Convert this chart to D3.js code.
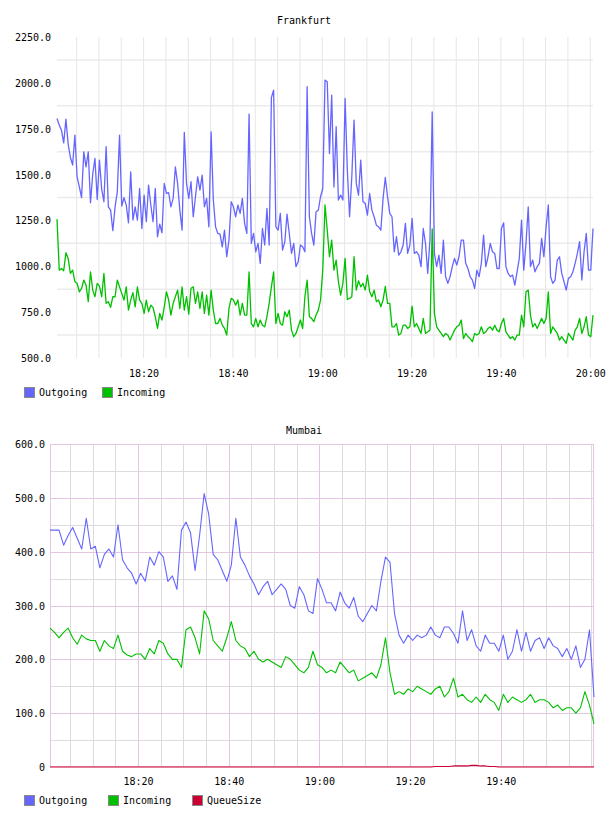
<!DOCTYPE html>
<html><head><meta charset="utf-8">
<script src="https://cdn.jsdelivr.net/npm/d3@7"></script>
<style>
body{margin:0;background:#fff;}
text{font-family:"DejaVu Sans Mono",monospace;font-size:10px;fill:#000;}
</style>
</head><body>
<svg id="c" width="608" height="816"></svg>
<script>
// ---------- DATA ----------
const fraTimeTicks = ["18:20","18:40","19:00","19:20","19:40","20:00"];
const mumTimeTicks = ["18:20","18:40","19:00","19:20","19:40"];

// Frankfurt: samples every 30 s starting 18:00:37
const fraStart = "18:00:37";
const fraStepSec = 30;
const fraYTicks = [500,750,1000,1250,1500,1750,2000,2250];
const fraOutgoing = [
1806,1770,1742,1673,1802,1666,1593,1552,1715,1488,
1433,1375,1624,1542,1624,1346,1503,1588,1364,1579,
1421,1352,1652,1324,1306,1194,1324,1406,1715,1328,
1374,1334,1237,1515,1252,1324,1252,1424,1206,1388,
1243,1443,1334,1243,1424,1161,1230,1183,1452,1397,
1401,1324,1370,1542,1452,1306,1197,1730,1452,1370,
1461,1270,1379,1488,1415,1497,1324,1370,1215,1733,
1361,1215,1179,1175,1106,1197,1052,1143,1352,1324,
1270,1334,1288,1370,1234,1179,1830,1125,1179,1079,
1125,1016,1206,1116,1315,1116,1920,1960,1215,1197,
1288,1088,1134,1284,1179,1070,1125,998,1025,1116,
1106,1079,1979,1270,1179,1116,1297,1306,1379,1424,
2015,2006,1615,1933,1433,1761,1361,1388,1361,1915,
1524,1270,1488,1797,1452,1388,1579,1352,1343,1279,
1397,1306,1270,1224,1215,1197,1370,1484,1379,1288,
1270,1079,1161,1061,1079,1116,1234,1070,1116,1261,
1070,1079,1061,998,1206,1125,961,1143,1842,1070,
998,1061,961,1143,943,907,943,998,1043,1007,
1052,1143,1143,1016,988,943,925,879,979,943,
1016,1170,998,1052,1125,1079,1070,988,988,1206,
1237,998,961,943,952,897,970,1043,1252,979,
1125,1324,998,1034,970,998,1016,1152,1052,1215,
1334,943,907,925,1034,1052,961,916,870,934,
943,970,1016,1070,1134,925,1079,1179,979,979,1206];
const fraIncoming = [
1257,979,988,976,1074,1043,961,979,916,907,
861,879,925,897,807,970,870,834,907,892,
834,961,798,807,776,834,834,925,888,852,
816,888,761,816,856,779,888,816,798,743,
816,752,788,776,725,661,743,707,776,861,
816,734,798,834,870,770,888,761,834,739,
880,888,798,861,770,861,743,843,734,870,
761,688,688,716,679,661,625,770,825,816,
788,816,734,798,734,734,970,688,670,716,
670,707,679,670,725,798,888,970,688,743,
688,679,752,725,761,652,616,634,670,707,
661,834,925,725,716,698,734,761,816,979,
1334,1197,1052,1143,979,1034,916,843,907,1043,
819,825,834,1052,870,921,888,907,870,952,
861,834,870,807,816,779,816,890,798,798,
670,670,688,625,634,679,679,661,670,783,
670,688,661,634,716,634,643,652,1204,743,
670,652,634,616,634,625,598,625,652,670,
679,707,606,634,616,606,589,634,625,634,
670,634,643,661,670,652,679,652,643,688,
716,643,625,606,616,598,625,625,734,670,
861,870,734,670,688,661,688,716,688,716,
861,634,670,652,634,598,616,598,580,634,
616,598,652,670,716,634,670,725,625,616,734];

// Mumbai: samples every 60 s starting 18:00:35
const mumStart = "18:00:35";
const mumStepSec = 60;
const mumYTicks = [0,100,200,300,400,500,600];
const mumOutgoing = [
440,440,440,412,430,445,425,405,462,405,
410,370,395,405,390,450,385,370,360,340,
360,345,390,375,400,390,345,355,330,440,
455,435,365,430,508,470,395,385,365,345,
375,462,390,375,355,340,320,335,345,320,
330,340,330,300,295,335,320,290,285,350,
330,305,305,290,325,305,295,315,280,270,
285,300,290,345,390,380,285,245,230,245,
235,245,240,245,260,245,240,260,260,248,
230,290,235,255,225,215,245,230,230,215,
245,200,215,255,215,250,215,235,240,220,
240,225,220,205,220,200,225,185,200,255,130];
const mumIncoming = [
258,250,240,250,258,240,228,245,238,235,
235,215,235,225,220,245,215,208,205,210,
210,200,220,210,235,230,210,200,200,185,
255,260,240,210,290,275,235,225,215,240,
270,235,225,220,205,215,200,195,200,195,
190,185,205,200,190,180,175,185,215,190,
185,175,180,175,195,185,175,180,160,165,
170,175,165,190,240,175,135,140,135,145,
140,150,145,140,135,145,150,130,140,165,
130,135,125,120,130,120,135,125,120,105,
135,120,130,125,120,125,135,120,125,125,
120,110,115,105,110,110,100,110,140,115,80];
const mumQueue = [
0,0,0,0,0,0,0,0,0,0, 0,0,0,0,0,0,0,0,0,0,
0,0,0,0,0,0,0,0,0,0, 0,0,0,0,0,0,0,0,0,0,
0,0,0,0,0,0,0,0,0,0, 0,0,0,0,0,0,0,0,0,0,
0,0,0,0,0,0,0,0,0,0, 0,0,0,0,0,0,0,0,0,0,
0,0,0,0,0,1,1,1,1,2, 2,2,2,3,3,2,2,1,1,0,
0,0,0,0,0,0,0,0,0,0, 0,0,0,0,0,0,0,0,0,0, 0];

const colors = {Outgoing:"#6666ff", Incoming:"#00c000", QueueSize:"#cc0033"};

// ---------- HELPERS ----------
const svg = d3.select("#c");
const parseHMS = d3.timeParse("%Y-%m-%d %H:%M:%S");
const parseHM = d3.timeParse("%Y-%m-%d %H:%M");
const day = "2013-01-01 ";
function series(startStr, stepSec, vals){
  const t0 = parseHMS(day + startStr);
  return vals.map((v,i)=>({t:d3.timeSecond.offset(t0, i*stepSec), v}));
}
const fmt = d3.timeFormat("%H:%M");

function drawChart(o){
  const g = svg.append("g");
  const tickDates = o.timeTicks.map(s=>parseHM(day+s));
  const all = o.series.map(s=>series(o.start, o.step, s.values));
  const tExt = d3.extent(all[0], d=>d.t);
  const x = d3.scaleTime().domain(tExt).range([o.x0, o.x1]);
  const y = d3.scaleLinear().domain([o.yTicks[0], o.yTicks[o.yTicks.length-1]]).range([o.y1, o.y0]);
  const fiveMin = d3.timeMinute.every(5).range(tExt[0], tExt[1]);

  // grid
  const grid = g.append("g");
  if(o.style==="fra"){
    const mids = o.yTicks.slice(0,-1).map((v,i)=>(v+o.yTicks[i+1])/2);
    grid.selectAll("line.h").data(mids).join("line")
      .attr("x1",o.x0).attr("x2",o.x1).attr("y1",d=>y(d)).attr("y2",d=>y(d))
      .attr("stroke","#ebebeb").attr("stroke-width",1.5);
    grid.selectAll("line.v").data(fiveMin).join("line")
      .attr("x1",d=>x(d)).attr("x2",d=>x(d)).attr("y1",o.y0).attr("y2",o.y1)
      .attr("stroke","#e6e6e6").attr("stroke-width",1);
  } else {
    const minorY = o.yTicks.slice(0,-1).map((v,i)=>(v+o.yTicks[i+1])/2);
    grid.selectAll("line.hm").data(minorY).join("line")
      .attr("x1",o.x0).attr("x2",o.x1).attr("y1",d=>Math.round(y(d))+0.5).attr("y2",d=>Math.round(y(d))+0.5)
      .attr("stroke","#dcdcdc");
    const minorX = fiveMin.filter(d=>!tickDates.some(t=>+t===+d));
    grid.selectAll("line.vm").data(minorX).join("line")
      .attr("x1",d=>Math.round(x(d))+0.5).attr("x2",d=>Math.round(x(d))+0.5).attr("y1",o.y0).attr("y2",o.y1)
      .attr("stroke","#dcdcdc");
    grid.selectAll("line.hM").data(o.yTicks.slice(1,-1)).join("line")
      .attr("x1",o.x0).attr("x2",o.x1).attr("y1",d=>Math.round(y(d))+0.5).attr("y2",d=>Math.round(y(d))+0.5)
      .attr("stroke","#e2c6e2");
    grid.selectAll("line.vM").data(tickDates).join("line")
      .attr("x1",d=>Math.round(x(d))+0.5).attr("x2",d=>Math.round(x(d))+0.5).attr("y1",o.y0).attr("y2",o.y1)
      .attr("stroke","#e2c6e2");
    grid.append("rect").attr("x",o.x0+0.5).attr("y",o.y0+0.5)
      .attr("width",o.x1-o.x0-1).attr("height",o.y1-o.y0-1)
      .attr("fill","none").attr("stroke","#e2c6e2");
  }

  // axes
  const ax = g.append("g").attr("transform",`translate(0,${o.xLabelY})`)
    .call(d3.axisBottom(x).tickValues(tickDates).tickFormat(fmt).tickSize(0).tickPadding(0));
  ax.select(".domain").remove();
  ax.selectAll("text").attr("dy","0.35em").attr("fill",null);
  ax.attr("font-size",null).attr("font-family",null);

  const ay = g.append("g").attr("transform",`translate(${o.yLabelX},0)`)
    .call(d3.axisLeft(y).tickValues(o.yTicks).tickFormat(d=>d===0?"0":d.toFixed(1)).tickSize(0).tickPadding(0));
  ay.select(".domain").remove();
  ay.selectAll("text").attr("dy","0.35em").attr("fill",null);
  ay.attr("font-size",null).attr("font-family",null);

  // lines
  const line = d3.line().x(d=>x(d.t)).y(d=>y(d.v));
  o.series.forEach((s,i)=>{
    g.append("path").datum(all[i]).attr("d",line)
      .attr("fill","none").attr("stroke",colors[s.name]).attr("stroke-width",o.lw)
      .attr("stroke-linejoin","round");
  });

  // title
  g.append("text").attr("x",304).attr("y",o.titleY).attr("text-anchor","middle")
    .attr("dy","0.35em").text(o.title);

  // legend
  const lg = g.append("g");
  o.series.forEach((s,i)=>{
    const lx = o.legendX[i];
    lg.append("rect").attr("x",lx+0.5).attr("y",o.legendY-4.5).attr("width",10).attr("height",10)
      .attr("fill",colors[s.name]).attr("stroke","#888");
    lg.append("text").attr("x",lx+15).attr("y",o.legendY+0.5).attr("dy","0.35em").text(s.name);
  });
}

drawChart({
  title:"Frankfurt", titleY:20, style:"fra", timeTicks:fraTimeTicks,
  start:fraStart, step:fraStepSec, yTicks:fraYTicks,
  series:[{name:"Outgoing",values:fraOutgoing},{name:"Incoming",values:fraIncoming}],
  x0:57, x1:593, y0:37, y1:358, xLabelY:373, yLabelX:51, lw:1.3,
  legendX:[24,102], legendY:392
});
drawChart({
  title:"Mumbai", titleY:430, style:"mum", timeTicks:mumTimeTicks,
  start:mumStart, step:mumStepSec, yTicks:mumYTicks,
  series:[{name:"Outgoing",values:mumOutgoing},{name:"Incoming",values:mumIncoming},{name:"QueueSize",values:mumQueue}],
  x0:50, x1:594, y0:444, y1:767, xLabelY:781, yLabelX:45, lw:1.1,
  legendX:[24,108,192], legendY:800
});
</script>
</body></html>
